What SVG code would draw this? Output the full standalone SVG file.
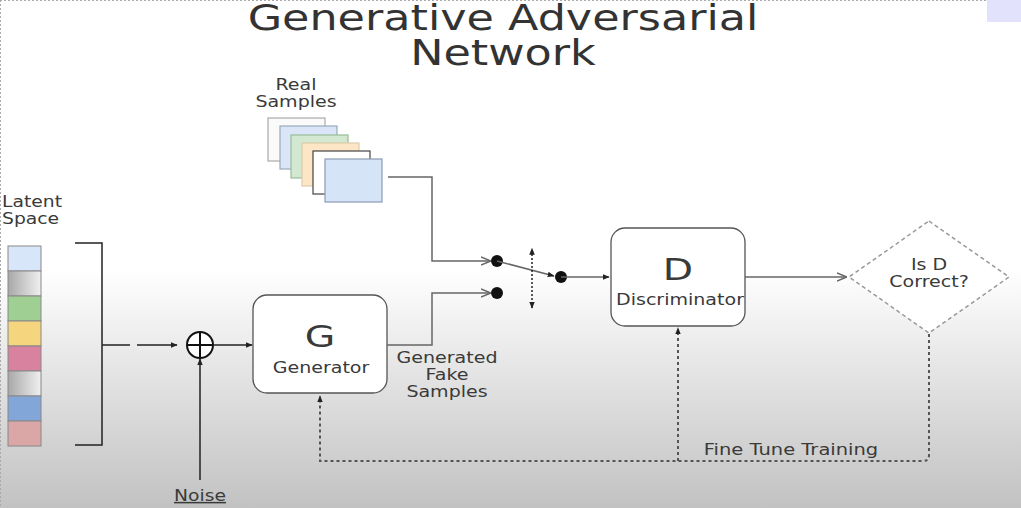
<svg xmlns="http://www.w3.org/2000/svg" width="1021" height="508" viewBox="0 0 1021 508">
<defs>
<linearGradient id="bg" x1="0" y1="0" x2="0" y2="1">
<stop offset="0" stop-color="#ffffff"/>
<stop offset="0.53" stop-color="#ffffff"/>
<stop offset="0.75" stop-color="#e2e2e2"/>
<stop offset="1" stop-color="#c2c2c2"/>
</linearGradient>
<linearGradient id="gray" x1="0" y1="0" x2="1" y2="0">
<stop offset="0" stop-color="#a8a8a8"/>
<stop offset="1" stop-color="#f0f0f0"/>
</linearGradient>
<marker id="ah" viewBox="0 0 10 10" refX="9" refY="5" markerWidth="7" markerHeight="7" orient="auto" markerUnits="userSpaceOnUse">
<path d="M0,1 L10,5 L0,9 z" fill="#222"/>
</marker>
<marker id="oa" viewBox="0 0 10 10" refX="9" refY="5" markerWidth="10" markerHeight="10" orient="auto" markerUnits="userSpaceOnUse">
<path d="M0,1 L10,5 L0,9" fill="none" stroke="#666" stroke-width="1.5"/>
</marker>
<marker id="ahs" viewBox="0 0 10 10" refX="1" refY="5" markerWidth="7" markerHeight="7" orient="auto-start-reverse" markerUnits="userSpaceOnUse">
<path d="M0,1 L10,5 L0,9 z" fill="#222"/>
</marker>
</defs>
<style>
text{font-family:"DejaVu Sans",Verdana,sans-serif;fill:#3a3a3a;}
.title{font-size:35px;text-anchor:middle;fill:#333;}
.lbl{font-size:15px;text-anchor:middle;}
.big{font-size:31px;text-anchor:middle;}
.box{fill:#fff;stroke:#555;stroke-width:1.3;}
.ln{fill:none;stroke:#666;stroke-width:1.5;}
.dk{fill:none;stroke:#222;stroke-width:1.5;}
.dot{fill:none;stroke:#555;stroke-width:2;stroke-dasharray:3 3;}
.bar{stroke:#888;stroke-width:1;}
.smp{stroke-width:1.2;}
</style>
<rect x="0" y="0" width="1021" height="508" fill="url(#bg)"/>
<line x1="0" y1="0.5" x2="1021" y2="0.5" stroke="#aaa" stroke-dasharray="2 2"/>
<line x1="0.5" y1="0" x2="0.5" y2="508" stroke="#aaa" stroke-dasharray="2 2"/>
<rect x="987" y="0" width="34" height="22" fill="#e2e2fd"/>

<g id="title">
<text class="title" transform="translate(503,30) scale(1.27,1)">Generative Adversarial</text>
<text class="title" transform="translate(503,65) scale(1.27,1)">Network</text>
</g>

<g id="latent">
<text transform="translate(2,207) scale(1.25,1)" style="font-size:15px">Latent</text>
<text transform="translate(2,224) scale(1.25,1)" style="font-size:15px">Space</text>
<rect class="bar" x="8" y="246" width="33" height="25" fill="#d8e6fa"/>
<rect class="bar" x="8" y="271" width="33" height="25" fill="url(#gray)"/>
<rect class="bar" x="8" y="296" width="33" height="25" fill="#9fcf93"/>
<rect class="bar" x="8" y="321" width="33" height="25" fill="#f5d67e"/>
<rect class="bar" x="8" y="346" width="33" height="25" fill="#d8829f"/>
<rect class="bar" x="8" y="371" width="33" height="25" fill="url(#gray)"/>
<rect class="bar" x="8" y="396" width="33" height="25" fill="#82a6d8"/>
<rect class="bar" x="8" y="421" width="33" height="25" fill="#dba6a6"/>
<path class="dk" d="M75,243 H102 V445 H75" stroke-width="2"/>
</g>

<g id="sum">
<circle cx="200" cy="345" r="13" fill="#fff" stroke="#111" stroke-width="2"/>
<path d="M187,345 H213 M200,332 V358" stroke="#111" stroke-width="2"/>
</g>

<g id="noise">
<text class="lbl" transform="translate(200,501) scale(1.25,1)" text-decoration="underline">Noise</text>
</g>

<g id="generator">
<rect class="box" x="253" y="295" width="134" height="98" rx="14"/>
<text class="big" transform="translate(320,347) scale(1.27,1)">G</text>
<text class="lbl" transform="translate(321,373) scale(1.27,1)">Generator</text>
</g>

<g id="fake-label">
<text class="lbl" transform="translate(447,363) scale(1.27,1)">Generated</text>
<text class="lbl" transform="translate(447,380) scale(1.27,1)">Fake</text>
<text class="lbl" transform="translate(447,397) scale(1.27,1)">Samples</text>
</g>

<g id="real-samples">
<text class="lbl" transform="translate(296,90) scale(1.27,1)">Real</text>
<text class="lbl" transform="translate(296,107) scale(1.27,1)">Samples</text>
<rect class="smp" x="268" y="118" width="57" height="43" fill="#fafafa" stroke="#aaa"/>
<rect class="smp" x="280" y="126" width="57" height="43" fill="#dae6f7" stroke="#9ab"/>
<rect class="smp" x="291" y="135" width="57" height="43" fill="#d3e8d0" stroke="#9b9"/>
<rect class="smp" x="302" y="143" width="57" height="43" fill="#fde6c6" stroke="#dca"/>
<rect class="smp" x="313" y="151" width="57" height="43" fill="#fff" stroke="#444"/>
<rect class="smp" x="325" y="159" width="57" height="43" fill="#d6e4f8" stroke="#8a9bb5"/>
</g>

<g id="switch">
<circle cx="497" cy="261" r="6" fill="#111"/>
<circle cx="497" cy="293" r="6" fill="#111"/>
<circle cx="561" cy="277" r="6" fill="#111"/>
</g>

<g id="discriminator">
<rect class="box" x="611" y="228" width="134" height="98" rx="14"/>
<text class="big" transform="translate(678,280) scale(1.27,1)">D</text>
<text class="lbl" transform="translate(680,305) scale(1.27,1)">Discriminator</text>
</g>

<g id="decision">
<path d="M929,221 L1009,277 L929,333 L849,277 Z" fill="#fff" stroke="#999" stroke-width="1.5" stroke-dasharray="4 3"/>
<text class="lbl" transform="translate(929,270) scale(1.27,1)">Is D</text>
<text class="lbl" transform="translate(929,287) scale(1.27,1)">Correct?</text>
</g>

<g id="fine-tune-label">
<text class="lbl" transform="translate(791,455) scale(1.3,1)">Fine Tune Training</text>
</g>

<g id="connectors">
<path class="dk" d="M102,345 H130"/>
<path class="dk" d="M137,345 H177" marker-end="url(#ah)"/>
<path class="dk" d="M213,345 H252" marker-end="url(#ah)"/>
<path class="dk" d="M200,480 V359" marker-end="url(#ah)"/>
<path class="ln" d="M387,345 H432 V293 H490" marker-end="url(#oa)"/>
<path class="ln" d="M388,177 H432 V261 H490" marker-end="url(#oa)"/>
<path class="ln" d="M497,261 L554,276" marker-end="url(#ah)"/>
<path d="M532,254 V308" fill="none" stroke="#222" stroke-width="1.5" stroke-dasharray="2 2" marker-start="url(#ahs)" marker-end="url(#ah)"/>
<path class="ln" d="M561,277 H609" marker-end="url(#ah)"/>
<path class="ln" d="M745,277 H846" marker-end="url(#oa)"/>
<path class="dot" d="M929,334 V455 Q929,461 923,461 H320 V396"/>
<path d="M320,402 V396" stroke="none" marker-end="url(#ah)"/>
<path class="dot" d="M678,461 V330"/>
<path d="M678,336 V328" stroke="none" marker-end="url(#ah)"/>
</g>
</svg>
